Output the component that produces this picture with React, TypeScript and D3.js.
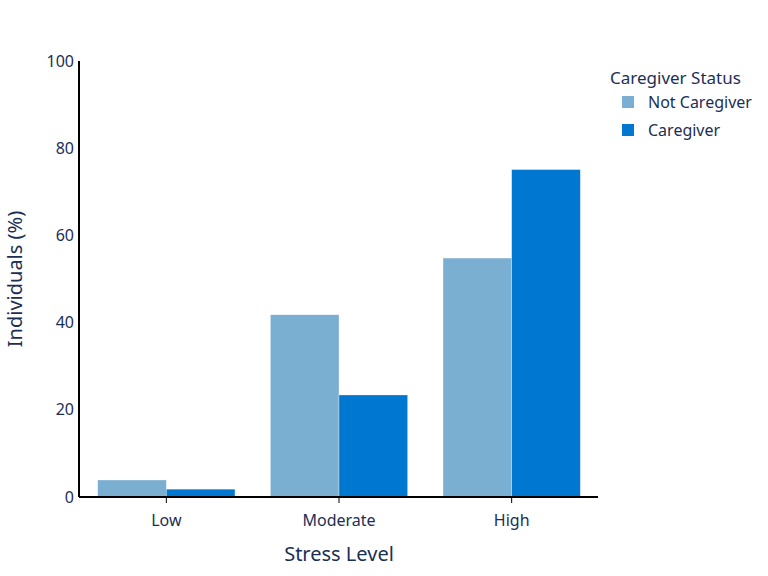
import React from 'react';
import * as d3 from 'd3';

const stressLevels = ['Low', 'Moderate', 'High'];
const statusGroups = ['Not Caregiver', 'Caregiver'];
const notCaregiver = [3.9, 41.8, 54.8];
const caregiver = [1.8, 23.4, 75.1];
const yTicks = [0, 20, 40, 60, 80, 100];

const colors: Record<string, string> = {
  'Not Caregiver': '#7aafd2',
  'Caregiver': '#0077d0',
};

const textColor = '#1b2f55';
const font = '"Source Sans Pro", "Noto Sans", sans-serif';

export default function App() {
  const width = 768;
  const height = 576;
  const margin = { top: 61, right: 170, bottom: 79, left: 80 };
  const innerW = width - margin.left - margin.right;
  const innerH = height - margin.top - margin.bottom;

  // full-width bands for tick positions, narrower groups for the bars
  const xOuter = d3.scaleBand().domain(stressLevels).range([0, innerW]).padding(0);
  const groupW = xOuter.bandwidth() * 0.795;
  const xSub = d3.scaleBand().domain(statusGroups).range([0, groupW]);
  const y = d3.scaleLinear().domain([0, 100]).range([innerH, 0]);

  const seriesByGroup: Record<string, number[]> = {
    'Not Caregiver': notCaregiver,
    'Caregiver': caregiver,
  };

  return (
    <svg width={width} height={height} style={{ position: 'absolute', left: 0, top: 0, fontFamily: font }}>
      <rect width={width} height={height} fill="#fff" />
      <g transform={`translate(${margin.left},${margin.top})`}>
        {stressLevels.map((lvl, i) => {
          const cx = (xOuter(lvl) ?? 0) + xOuter.bandwidth() / 2;
          const x0 = cx - groupW / 2;
          return (
            <g key={lvl}>
              {statusGroups.map((grp) => {
                const v = seriesByGroup[grp][i];
                return (
                  <rect
                    key={grp}
                    x={x0 + (xSub(grp) ?? 0)}
                    y={y(v)}
                    width={xSub.bandwidth()}
                    height={innerH - y(v)}
                    fill={colors[grp]}
                    stroke="#ffffff"
                    strokeOpacity={0.6}
                    strokeWidth={0.5}
                  />
                );
              })}
            </g>
          );
        })}
        {/* y axis */}
        <line x1={-1} x2={-1} y1={0} y2={innerH} stroke="#000" strokeWidth={2} />
        {yTicks.map((t) => (
          <text
            key={t}
            x={-6}
            y={y(t)}
            dy="0.35em"
            textAnchor="end"
            fontSize={16}
            fill={textColor}
          >
            {t}
          </text>
        ))}
        {/* x axis */}
        <line x1={-1} x2={innerW} y1={innerH} y2={innerH} stroke="#000" strokeWidth={2} />
        {stressLevels.map((lvl) => {
          const cx = (xOuter(lvl) ?? 0) + xOuter.bandwidth() / 2;
          return (
            <g key={lvl} transform={`translate(${cx},${innerH})`}>
              <line y1={0} y2={6} stroke="#000" strokeWidth={1} />
              <text y={29} textAnchor="middle" fontSize={16} fill={textColor}>
                {lvl}
              </text>
            </g>
          );
        })}
        <text
          x={innerW / 2}
          y={innerH + 64}
          textAnchor="middle"
          fontSize={20}
          fill={textColor}
        >
          Stress Level
        </text>
        <text
          transform={`translate(${-58},${innerH / 2}) rotate(-90)`}
          textAnchor="middle"
          fontSize={20}
          fill={textColor}
        >
          Individuals (%)
        </text>
      </g>
      {/* legend */}
      <g transform="translate(610,84)">
        <text x={0} y={0} fontSize={17} fill={textColor}>
          Caregiver Status
        </text>
        {statusGroups.map((grp, i) => (
          <g key={grp} transform={`translate(0,${18 + i * 28})`}>
            <rect x={12} y={-6} width={12} height={12} fill={colors[grp]} />
            <text x={38} y={0} dy="0.35em" fontSize={16} fill={textColor}>
              {grp}
            </text>
          </g>
        ))}
      </g>
    </svg>
  );
}
